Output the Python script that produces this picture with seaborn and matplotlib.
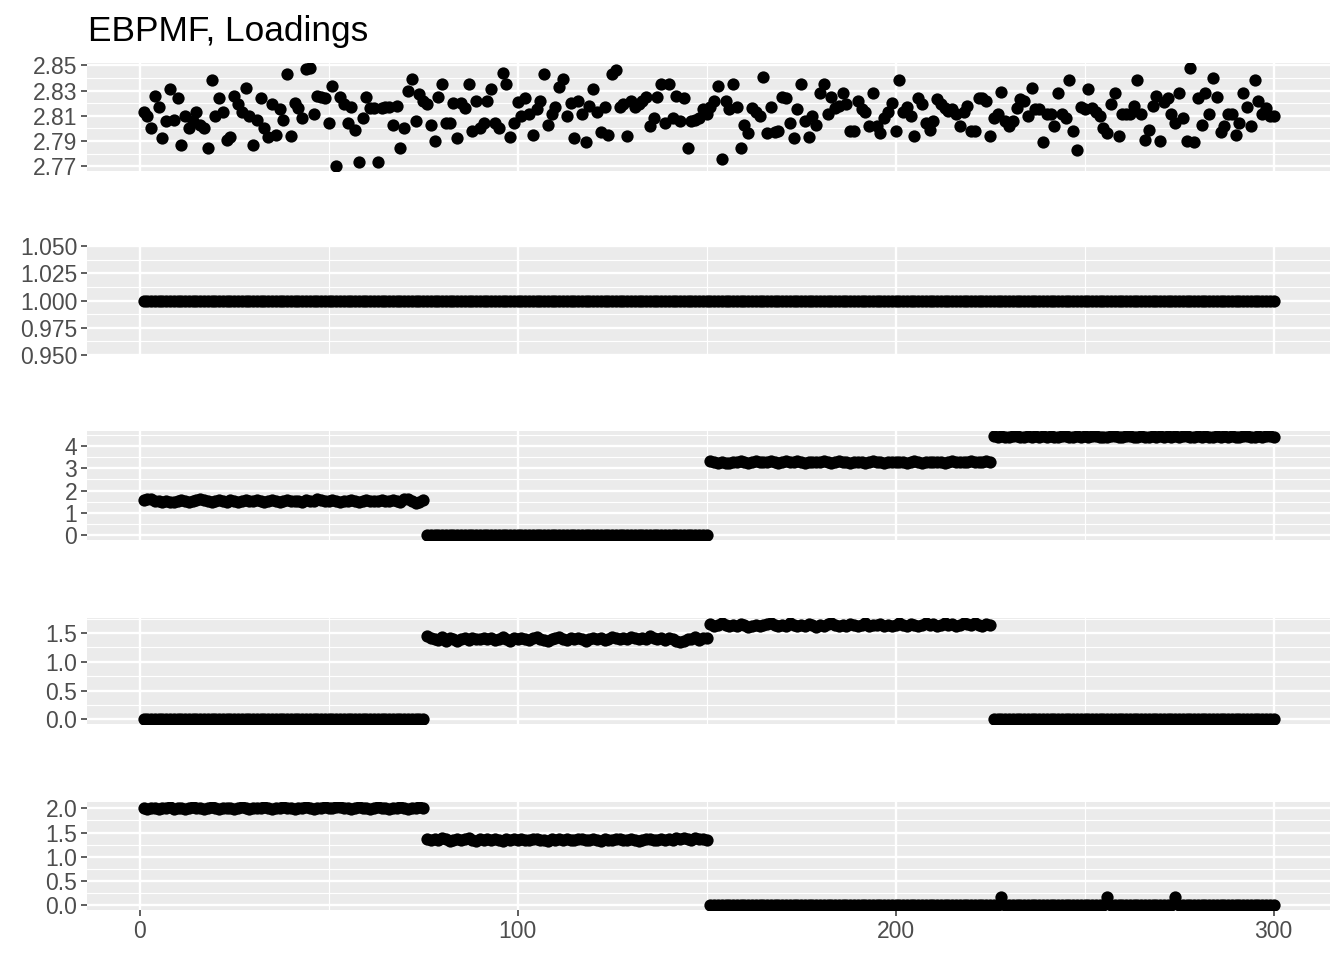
import numpy as np
import pandas as pd
import matplotlib
matplotlib.use("Agg")
import matplotlib.pyplot as plt
import seaborn as sns

# ---- data ----
idx = list(range(1, 301))

# loading 1: noisy values around 2.81
loading1 = [
    2.813, 2.810, 2.800, 2.826, 2.817, 2.792, 2.806, 2.831, 2.807, 2.824,
    2.787, 2.810, 2.800, 2.806, 2.813, 2.803, 2.800, 2.784, 2.838, 2.810,
    2.824, 2.813, 2.791, 2.793, 2.826, 2.819, 2.813, 2.832, 2.810, 2.787,
    2.807, 2.824, 2.800, 2.793, 2.819, 2.795, 2.815, 2.807, 2.843, 2.794,
    2.820, 2.816, 2.808, 2.847, 2.848, 2.811, 2.826, 2.825, 2.824, 2.804,
    2.834, 2.770, 2.825, 2.819, 2.804, 2.817, 2.799, 2.773, 2.808, 2.825,
    2.816, 2.816, 2.773, 2.816, 2.817, 2.817, 2.803, 2.818, 2.784, 2.800,
    2.830, 2.839, 2.806, 2.827, 2.822, 2.819, 2.803, 2.790, 2.825, 2.835,
    2.804, 2.804, 2.820, 2.792, 2.820, 2.816, 2.835, 2.798, 2.822, 2.800,
    2.804, 2.822, 2.831, 2.804, 2.800, 2.844, 2.835, 2.793, 2.804, 2.821,
    2.810, 2.824, 2.811, 2.795, 2.815, 2.822, 2.843, 2.803, 2.811, 2.817,
    2.833, 2.839, 2.810, 2.820, 2.792, 2.822, 2.811, 2.789, 2.818, 2.831,
    2.813, 2.797, 2.817, 2.795, 2.843, 2.846, 2.817, 2.819, 2.794, 2.822,
    2.817, 2.819, 2.822, 2.825, 2.802, 2.808, 2.825, 2.835, 2.804, 2.835,
    2.808, 2.826, 2.806, 2.824, 2.784, 2.806, 2.807, 2.808, 2.815, 2.811,
    2.817, 2.822, 2.834, 2.776, 2.822, 2.815, 2.835, 2.817, 2.784, 2.803,
    2.796, 2.816, 2.813, 2.810, 2.841, 2.796, 2.817, 2.797, 2.798, 2.825,
    2.824, 2.804, 2.792, 2.815, 2.835, 2.806, 2.793, 2.810, 2.803, 2.828,
    2.835, 2.811, 2.825, 2.816, 2.818, 2.828, 2.819, 2.798, 2.798, 2.822,
    2.815, 2.813, 2.802, 2.828, 2.802, 2.796, 2.808, 2.813, 2.820, 2.798,
    2.838, 2.813, 2.817, 2.810, 2.794, 2.824, 2.819, 2.804, 2.799, 2.806,
    2.823, 2.819, 2.816, 2.814, 2.815, 2.811, 2.802, 2.813, 2.818, 2.798,
    2.798, 2.824, 2.824, 2.822, 2.794, 2.808, 2.811, 2.829, 2.806, 2.802,
    2.806, 2.816, 2.823, 2.822, 2.810, 2.832, 2.815, 2.815, 2.789, 2.811,
    2.811, 2.802, 2.828, 2.811, 2.808, 2.838, 2.798, 2.783, 2.817, 2.815,
    2.831, 2.816, 2.813, 2.810, 2.800, 2.796, 2.819, 2.828, 2.794, 2.811,
    2.811, 2.811, 2.818, 2.838, 2.811, 2.791, 2.799, 2.818, 2.826, 2.790,
    2.821, 2.824, 2.811, 2.804, 2.828, 2.808, 2.790, 2.848, 2.789, 2.824,
    2.803, 2.828, 2.811, 2.840, 2.825, 2.797, 2.802, 2.811, 2.811, 2.795,
    2.804, 2.828, 2.817, 2.802, 2.838, 2.822, 2.811, 2.816, 2.810, 2.810,
]

# loading 2: flat at 1
loading2 = [1.0] * 300

# loading 3: four blocks of 75
l3_block1 = [
    1.58, 1.63, 1.60, 1.55, 1.52, 1.49, 1.51, 1.48, 1.50, 1.53, 1.56, 1.51, 1.48, 1.53, 1.57,
    1.61, 1.57, 1.51, 1.49, 1.55, 1.58, 1.54, 1.50, 1.56, 1.52, 1.50, 1.55, 1.58, 1.53, 1.51,
    1.56, 1.54, 1.50, 1.53, 1.57, 1.52, 1.49, 1.54, 1.56, 1.51, 1.55, 1.53, 1.50, 1.57, 1.52,
    1.55, 1.60, 1.56, 1.51, 1.54, 1.58, 1.53, 1.50, 1.55, 1.52, 1.56, 1.53, 1.49, 1.54, 1.57,
    1.52, 1.55, 1.51, 1.56, 1.53, 1.55, 1.58, 1.54, 1.50, 1.60, 1.64, 1.55, 1.44, 1.48, 1.58,
]
l3_block2 = [0.0] * 75
l3_block3 = [
    3.32, 3.28, 3.25, 3.27, 3.22, 3.24, 3.26, 3.29, 3.31, 3.27, 3.25, 3.28, 3.33, 3.30, 3.26,
    3.29, 3.32, 3.27, 3.24, 3.28, 3.31, 3.26, 3.29, 3.33, 3.28, 3.25, 3.27, 3.30, 3.26, 3.29,
    3.31, 3.27, 3.25, 3.29, 3.32, 3.28, 3.26, 3.24, 3.28, 3.30, 3.27, 3.25, 3.29, 3.31, 3.26,
    3.28, 3.25, 3.27, 3.30, 3.26, 3.29, 3.27, 3.24, 3.28, 3.31, 3.27, 3.25, 3.29, 3.26, 3.28,
    3.30, 3.27, 3.25, 3.28, 3.31, 3.26, 3.29, 3.27, 3.30, 3.32, 3.28, 3.26, 3.29, 3.31, 3.28,
]
l3_block4 = [
    4.43, 4.41, 4.44, 4.42, 4.40, 4.43, 4.45, 4.42, 4.41, 4.43, 4.42, 4.44, 4.41, 4.43, 4.42,
    4.44, 4.42, 4.40, 4.43, 4.45, 4.42, 4.41, 4.44, 4.42, 4.43, 4.41, 4.44, 4.43, 4.42, 4.40,
    4.42, 4.44, 4.43, 4.41, 4.42, 4.45, 4.43, 4.41, 4.42, 4.44, 4.42, 4.40, 4.43, 4.42, 4.44,
    4.41, 4.43, 4.42, 4.44, 4.41, 4.43, 4.45, 4.42, 4.41, 4.43, 4.42, 4.44, 4.42, 4.41, 4.43,
    4.42, 4.44, 4.41, 4.43, 4.42, 4.40, 4.43, 4.44, 4.42, 4.41, 4.43, 4.42, 4.44, 4.43, 4.42,
]

# loading 4
l4_block1 = [0.0] * 75
l4_block2 = [
    1.45, 1.42, 1.40, 1.38, 1.43, 1.37, 1.41, 1.39, 1.36, 1.40, 1.42, 1.38, 1.41, 1.39, 1.40,
    1.42, 1.39, 1.41, 1.38, 1.40, 1.43, 1.39, 1.37, 1.41, 1.40, 1.42, 1.39, 1.38, 1.41, 1.43,
    1.40, 1.38, 1.36, 1.39, 1.41, 1.43, 1.40, 1.38, 1.41, 1.39, 1.42, 1.40, 1.37, 1.40, 1.42,
    1.39, 1.41, 1.38, 1.40, 1.43, 1.41, 1.39, 1.42, 1.40, 1.44, 1.41, 1.39, 1.42, 1.40, 1.45,
    1.41, 1.39, 1.42, 1.38, 1.41, 1.40, 1.37, 1.34, 1.36, 1.39, 1.40, 1.43, 1.38, 1.41, 1.42,
]
l4_block3 = [
    1.66, 1.63, 1.65, 1.67, 1.64, 1.62, 1.65, 1.63, 1.66, 1.64, 1.61, 1.63, 1.65, 1.62, 1.64,
    1.66, 1.68, 1.64, 1.62, 1.65, 1.63, 1.67, 1.64, 1.62, 1.65, 1.63, 1.66, 1.64, 1.61, 1.65,
    1.63, 1.66, 1.68, 1.64, 1.62, 1.65, 1.63, 1.66, 1.64, 1.62, 1.65, 1.67, 1.63, 1.65, 1.64,
    1.66, 1.63, 1.65, 1.62, 1.64, 1.67, 1.65, 1.63, 1.66, 1.64, 1.62, 1.65, 1.68, 1.64, 1.66,
    1.63, 1.65, 1.67, 1.64, 1.66, 1.63, 1.65, 1.68, 1.66, 1.64, 1.67, 1.65, 1.63, 1.66, 1.64,
]
l4_block4 = [0.0] * 75

# loading 5
l5_block1 = [
    2.00, 1.99, 2.01, 2.00, 1.98, 2.01, 2.00, 2.02, 1.99, 2.00, 2.01, 1.99, 2.00, 2.02, 2.00,
    2.01, 1.99, 2.00, 2.02, 2.01, 1.99, 2.00, 2.01, 2.00, 1.99, 2.01, 2.02, 2.00, 1.99, 2.00,
    2.01, 2.00, 2.02, 2.01, 1.99, 2.00, 2.01, 2.03, 2.01, 2.00, 1.99, 2.01, 2.00, 2.02, 2.00,
    1.99, 2.01, 2.00, 2.02, 2.01, 2.00, 2.02, 2.03, 2.01, 2.00, 1.99, 2.01, 2.02, 2.00, 2.01,
    1.99, 2.00, 2.02, 2.01, 2.00, 1.99, 2.01, 2.00, 2.02, 2.01, 1.99, 2.00, 2.01, 2.02, 2.01,
]
l5_block2 = [
    1.36, 1.34, 1.37, 1.35, 1.38, 1.36, 1.33, 1.35, 1.37, 1.34, 1.36, 1.38, 1.35, 1.33, 1.36,
    1.35, 1.37, 1.34, 1.36, 1.35, 1.33, 1.36, 1.34, 1.37, 1.35, 1.36, 1.34, 1.35, 1.37, 1.36,
    1.34, 1.35, 1.33, 1.36, 1.35, 1.37, 1.34, 1.36, 1.35, 1.34, 1.36, 1.37, 1.35, 1.34, 1.36,
    1.35, 1.33, 1.36, 1.34, 1.35, 1.37, 1.36, 1.34, 1.35, 1.36, 1.34, 1.33, 1.35, 1.37, 1.36,
    1.34, 1.35, 1.36, 1.34, 1.37, 1.35, 1.38, 1.36, 1.39, 1.37, 1.35, 1.38, 1.36, 1.37, 1.35,
]
l5_tail = [0.0] * 150
l5_bump_x = [228, 256, 274]
l5_bump_y = [0.17, 0.17, 0.17]

loading3 = l3_block1 + l3_block2 + l3_block3 + l3_block4
loading4 = l4_block1 + l4_block2 + l4_block3 + l4_block4
loading5 = l5_block1 + l5_block2 + l5_tail
for bx, by in zip(l5_bump_x, l5_bump_y):
    loading5[bx - 1] = by

df = pd.DataFrame({"idx": idx, "L1": loading1, "L2": loading2,
                   "L3": loading3, "L4": loading4, "L5": loading5})

# ---- style: ggplot theme_gray look ----
sns.set_theme(style="darkgrid", rc={
    "axes.facecolor": "#EBEBEB",
    "grid.color": "white",
    "axes.edgecolor": "#EBEBEB",
})
plt.rcParams["font.family"] = ["Liberation Sans", "DejaVu Sans"]

W, H = 1344, 960
fig = plt.figure(figsize=(W / 100, H / 100), dpi=100)

left_px, right_px = 87, 1330
# (top, bottom) pixel of each panel
panel_px = [(63, 171), (246, 355), (431, 540), (618, 724), (802, 910)]

yticks = [
    ([2.77, 2.79, 2.81, 2.83, 2.85], ["2.77", "2.79", "2.81", "2.83", "2.85"]),
    ([0.95, 0.975, 1.0, 1.025, 1.05], ["0.950", "0.975", "1.000", "1.025", "1.050"]),
    ([0, 1, 2, 3, 4], ["0", "1", "2", "3", "4"]),
    ([0, 0.5, 1.0, 1.5], ["0.0", "0.5", "1.0", "1.5"]),
    ([0, 0.5, 1.0, 1.5, 2.0], ["0.0", "0.5", "1.0", "1.5", "2.0"]),
]
cols = ["L1", "L2", "L3", "L4", "L5"]

xlo, xhi = 1, 300
xpad = 0.05 * (xhi - xlo)

for i, col in enumerate(cols):
    top, bot = panel_px[i]
    ax = fig.add_axes([left_px / W, 1 - bot / H, (right_px - left_px) / W, (bot - top) / H])
    sns.scatterplot(data=df, x="idx", y=col, ax=ax, color="black", s=78,
                    linewidth=0, legend=False, zorder=3)

    ticks, labels = yticks[i]
    if col == "L2":
        ylo, yhi = 0.95, 1.05
    else:
        dmin, dmax = df[col].min(), df[col].max()
        pad = 0.05 * (dmax - dmin)
        ylo, yhi = dmin - pad, dmax + pad
    ax.set_ylim(ylo, yhi)
    ax.set_xlim(xlo - xpad, xhi + xpad)

    ax.set_yticks(ticks)
    ax.set_yticklabels(labels)
    step = ticks[1] - ticks[0]
    minors = [t + step / 2 for t in [ticks[0] - step] + ticks]
    ax.set_yticks([m for m in minors if ylo < m < yhi], minor=True)
    ax.set_xticks([0, 100, 200, 300])
    ax.set_xticks([50, 150, 250], minor=True)

    ax.grid(which="major", color="white", linewidth=1.7)
    ax.grid(which="minor", color="white", linewidth=0.85)
    ax.set_axisbelow(True)
    for s in ax.spines.values():
        s.set_visible(False)

    ax.tick_params(axis="both", which="major", length=4, width=1.1, color="#333333",
                   labelsize=16.5, labelcolor="#4D4D4D", pad=3, left=True, bottom=True)
    ax.tick_params(axis="both", which="minor", length=0)
    ax.set_xlabel("")
    ax.set_ylabel("")
    if i < 4:
        # upper panels carry no x axis marks
        ax.tick_params(axis="x", which="major", length=0)
        ax.set_xticklabels([])

fig.text(88 / W, 1 - 41 / H, "EBPMF, Loadings", fontsize=25.4, color="black",
         ha="left", va="baseline")

fig.savefig("out.png", dpi=100)
